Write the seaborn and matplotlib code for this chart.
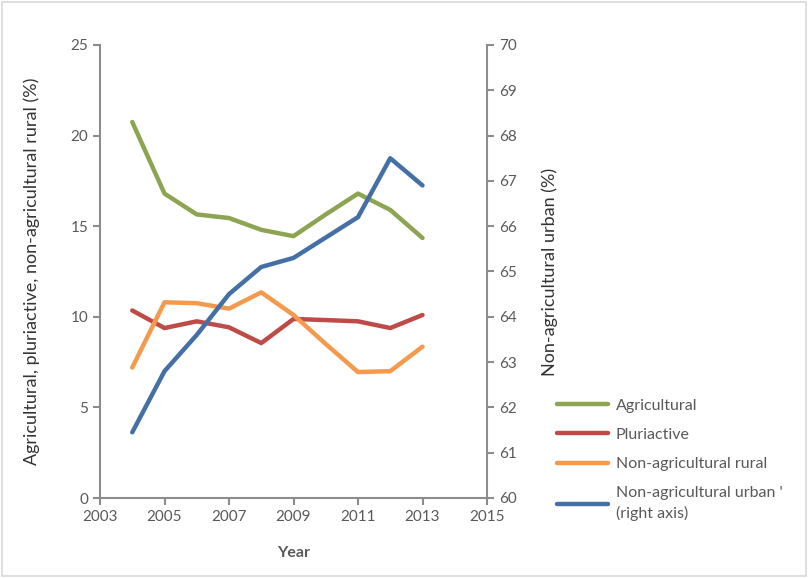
import matplotlib
matplotlib.use("Agg")
import matplotlib.pyplot as plt
import seaborn as sns
import pandas as pd
from matplotlib.patches import Rectangle

years = [2004, 2005, 2006, 2007, 2008, 2009, 2010, 2011, 2012, 2013]
agricultural = [20.75, 16.8, 15.65, 15.45, 14.8, 14.45, 15.65, 16.8, 15.9, 14.35]
pluriactive = [10.35, 9.38, 9.75, 9.42, 8.55, 9.88, 9.82, 9.75, 9.38, 10.1]
nonag_rural = [7.2, 10.8, 10.75, 10.45, 11.35, 10.1, 8.5, 6.95, 7.0, 8.35]
nonag_urban = [61.45, 62.8, 63.6, 64.5, 65.1, 65.3, 65.75, 66.2, 67.5, 66.9]

labels = ["Agricultural", "Pluriactive", "Non-agricultural rural",
          "Non-agricultural urban '\n(right axis)"]
colors = ["#8DA552", "#BE4B48", "#F59A4C", "#4470A6"]

x_ticks = [2003, 2005, 2007, 2009, 2011, 2013, 2015]
left_ticks = [0, 5, 10, 15, 20, 25]
right_ticks = list(range(60, 71))

sns.set_style("white")
plt.rcParams["font.family"] = ["Lato", "DejaVu Sans"]

df_left = pd.DataFrame({
    "Year": years * 3,
    "value": agricultural + pluriactive + nonag_rural,
    "series": [labels[0]] * len(years) + [labels[1]] * len(years) + [labels[2]] * len(years),
})
df_right = pd.DataFrame({"Year": years, "value": nonag_urban, "series": labels[3]})

fig = plt.figure(figsize=(8.08, 5.78), dpi=100)
ax = fig.add_axes([100 / 808, 1 - 498 / 578, 387 / 808, 453 / 578])
ax2 = ax.twinx()

sns.lineplot(data=df_left, x="Year", y="value", hue="series",
             palette=dict(zip(labels[:3], colors[:3])), linewidth=3.2,
             ax=ax, legend=False)
sns.lineplot(data=df_right, x="Year", y="value", color=colors[3],
             linewidth=3.2, ax=ax2, legend=False)

gray = "#8C8C8C"
txt = "#595959"
ax.set_xlim(2003, 2015)
ax.set_ylim(0, 25)
ax2.set_ylim(60, 70)
ax.set_xticks(x_ticks)
ax.set_yticks(left_ticks)
ax2.set_yticks(right_ticks)

for a in (ax, ax2):
    for s in a.spines.values():
        s.set_visible(False)
    a.set_facecolor("none")
ax.spines["left"].set_visible(True)
ax.spines["bottom"].set_visible(True)
ax2.spines["right"].set_visible(True)
for s in (ax.spines["left"], ax.spines["bottom"], ax2.spines["right"]):
    s.set_color(gray)
    s.set_linewidth(1.5)

ax.tick_params(axis="both", direction="out", length=5, width=1.5, color=gray,
               labelcolor=txt, labelsize=11, left=True, bottom=True)
ax2.tick_params(axis="y", direction="out", length=5, width=1.5, color=gray,
                labelcolor=txt, labelsize=11, right=True)

ax.set_xlabel("Year", fontsize=11.5, fontweight="bold", color=txt, labelpad=16)
ax.set_ylabel("Agricultural, pluriactive, non-agricultural rural (%)",
              fontsize=13, color="#333333", labelpad=22)
ax2.set_ylabel("Non-agricultural urban (%)", fontsize=13, color="#333333", labelpad=18)

handles = [plt.Line2D([0], [0], color=c, lw=3.2, solid_capstyle="round") for c in colors]
leg = fig.legend(handles, labels, loc="upper left", bbox_to_anchor=(543 / 808, 1 - 384 / 578),
                 frameon=False, fontsize=11.5, handlelength=3.2, labelspacing=0.95,
                 labelcolor=txt, handletextpad=0.45)
for t in leg.get_texts():
    t.set_linespacing(1.45)

fig.patches.append(Rectangle((0.002, 0.004), 0.995, 0.992, transform=fig.transFigure,
                             fill=False, edgecolor="#D9D9D9", linewidth=1.2))

fig.savefig("out.png", dpi=100, facecolor="white")
